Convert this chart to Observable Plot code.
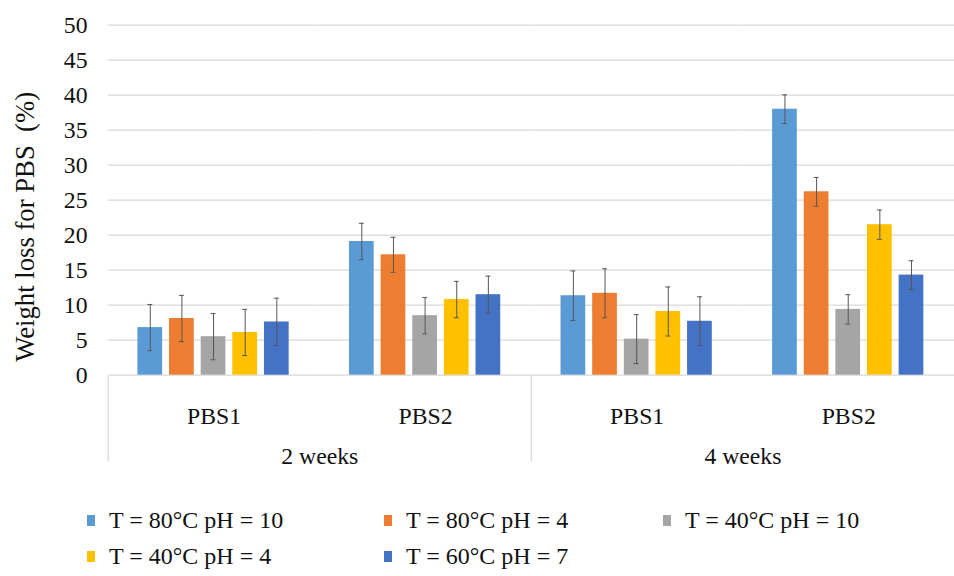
<!DOCTYPE html>
<html>
<head>
<meta charset="utf-8">
<script src="https://cdn.jsdelivr.net/npm/d3@7"></script>
<script src="https://cdn.jsdelivr.net/npm/@observablehq/plot@0.6"></script>
<style>
  html, body { margin: 0; padding: 0; background: #fff; overflow: hidden; width: 954px; height: 576px; }
  #chart { position: relative; }
  #chart svg { display: block; overflow: visible; }
  #chart svg + svg { margin-top: -12px; }
  #legend {
    margin-top: 28px;
    padding-left: 87px;
    display: grid;
    grid-template-columns: 297px 279px auto;
    font-family: "Liberation Serif", "Times New Roman", serif;
    font-size: 24px;
    line-height: 36px;
    color: #111;
  }
  .item { display: flex; align-items: center; white-space: pre; }
  .sw { width: 8px; height: 11px; margin-right: 14px; flex: none; }
</style>
</head>
<body>
<div id="chart"></div>
<div id="legend"></div>
<script>
// ---- data ----
const series = ["T = 80°C pH = 10", "T = 80°C pH = 4", "T = 40°C pH = 10", "T = 40°C pH = 4", "T = 60°C pH = 7"];
const colors = ["#5B9BD5", "#ED7D31", "#A5A5A5", "#FFC000", "#4472C4"];
const weeks = ["2 weeks", "4 weeks"];
const samples = ["PBS1", "PBS2"];
const yTicks = [0, 5, 10, 15, 20, 25, 30, 35, 40, 45, 50];
const yTitle = "Weight loss for PBS\u00a0 (%)";

// mean weight loss (%) per series, for each week / sample group
const mean2wPBS1 = [6.8, 8.1, 5.5, 6.1, 7.6];
const mean2wPBS2 = [19.1, 17.2, 8.5, 10.8, 11.5];
const mean4wPBS1 = [11.35, 11.7, 5.15, 9.1, 7.7];
const mean4wPBS2 = [38.0, 26.2, 9.4, 21.5, 14.3];
// error bar half-lengths
const err2wPBS1 = [3.3, 3.3, 3.3, 3.3, 3.4];
const err2wPBS2 = [2.6, 2.5, 2.6, 2.6, 2.65];
const err4wPBS1 = [3.55, 3.5, 3.5, 3.5, 3.5];
const err4wPBS2 = [2.05, 2.05, 2.1, 2.1, 2.05];

// ---- build table ----
const groupKeys = weeks.flatMap(w => samples.map(s => w + " " + s));
const means = [mean2wPBS1, mean2wPBS2, mean4wPBS1, mean4wPBS2];
const errs = [err2wPBS1, err2wPBS2, err4wPBS1, err4wPBS2];
const rows = groupKeys.flatMap((g, i) => series.map((s, j) => ({group: g, series: s, value: means[i][j], err: errs[i][j]})));
const cells = weeks.flatMap(w => samples.map(s => ({week: w, sample: s})));

const font = {fontFamily: "'Liberation Serif', 'Times New Roman', serif", fontSize: "24px", color: "#111", background: "transparent", overflow: "visible"};
const W = 965; // plot area continues slightly past the visible edge

const topPlot = Plot.plot({
  width: W, height: 392,
  marginTop: 25, marginBottom: 13, marginLeft: 108, marginRight: 0,
  style: font,
  fx: {domain: groupKeys, padding: 0, axis: null},
  x: {domain: series, paddingInner: 0.212, paddingOuter: 0.852, axis: null},
  y: {domain: [0, 50], ticks: yTicks, tickSize: 0, tickPadding: 21, label: null},
  color: {domain: series, range: colors},
  marks: [
    Plot.ruleY(yTicks, {stroke: "#d9d9d9", strokeWidth: 1.3}),
    Plot.barY(rows, {fx: "group", x: "series", y: "value", fill: "series"}),
    Plot.ruleX(rows, {fx: "group", x: "series", y1: d => d.value - d.err, y2: d => d.value + d.err, stroke: "#555", strokeWidth: 1}),
    Plot.tickY(rows, {fx: "group", x: "series", y: d => d.value + d.err, stroke: "#555", strokeWidth: 1, insetLeft: 10, insetRight: 10}),
    Plot.tickY(rows, {fx: "group", x: "series", y: d => d.value - d.err, stroke: "#555", strokeWidth: 1, insetLeft: 10, insetRight: 10}),
    Plot.text([{group: groupKeys[0], label: yTitle}], {fx: "group", text: "label", frameAnchor: "left", textAnchor: "middle", rotate: -90, dx: -84, dy: 27, fontSize: 27, fill: "#111"})
  ]
});

const bottomPlot = Plot.plot({
  width: W, height: 100,
  marginTop: 0, marginBottom: 15, marginLeft: 108, marginRight: 0,
  style: font,
  fx: {domain: weeks, padding: 0, axis: null},
  x: {type: "band", domain: samples, padding: 0, axis: null},
  marks: [
    Plot.frame({anchor: "left", stroke: "#d9d9d9", strokeWidth: 1.3}),
    Plot.text(cells, {fx: "week", x: "sample", text: "sample", frameAnchor: "top", dy: 31, fill: "#111"}),
    Plot.text(weeks, {fx: d => d, text: d => d, frameAnchor: "top", dy: 71, fill: "#111"})
  ]
});

const chart = document.getElementById("chart");
chart.appendChild(topPlot);
chart.appendChild(bottomPlot);

const legend = document.getElementById("legend");
series.forEach((s, i) => {
  const item = document.createElement("div");
  item.className = "item";
  const sw = document.createElement("span");
  sw.className = "sw";
  sw.style.background = colors[i];
  item.appendChild(sw);
  item.appendChild(document.createTextNode(s));
  legend.appendChild(item);
});
</script>
</body>
</html>
